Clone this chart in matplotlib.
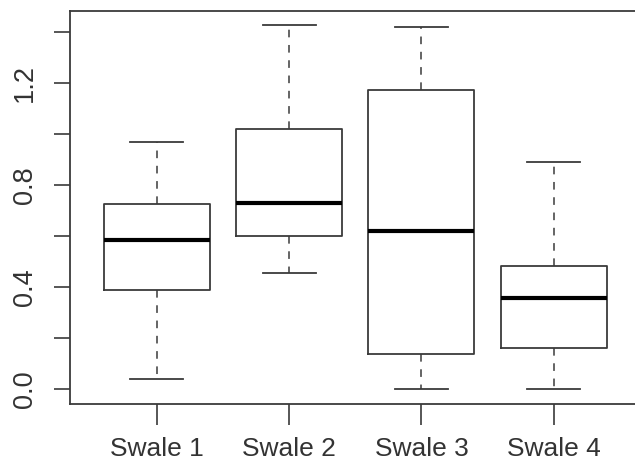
import matplotlib
matplotlib.use("Agg")
import matplotlib.pyplot as plt

categories = ["Swale 1", "Swale 2", "Swale 3", "Swale 4"]
whislo = [0.042, 0.458, 0.0, 0.0]
q1 = [0.388, 0.600, 0.137, 0.163]
med = [0.585, 0.731, 0.620, 0.358]
q3 = [0.727, 1.022, 1.173, 0.482]
whishi = [0.970, 1.427, 1.420, 0.890]
yticks = [0.0, 0.2, 0.4, 0.6, 0.8, 1.0, 1.2, 1.4]
ylabels = ["0.0", "", "0.4", "", "0.8", "", "1.2", ""]

plt.rcParams['font.family'] = ['Liberation Sans', 'DejaVu Sans']

fig = plt.figure(figsize=(6.35, 4.73), dpi=100)
ax = fig.add_axes([69.5 / 635, (473 - 404) / 473, (641 - 69.5) / 635, (404 - 10.6) / 473])

stats = []
for i, c in enumerate(categories):
    stats.append(dict(label=c, whislo=whislo[i], q1=q1[i], med=med[i], q3=q3[i], whishi=whishi[i], fliers=[]))

lc = '#3a3a3a'
ax.bxp(stats, positions=[1, 2, 3, 4], widths=0.8, capwidths=0.4, showfliers=False,
       boxprops=dict(color=lc, linewidth=1.3),
       whiskerprops=dict(color=lc, linewidth=1.1, linestyle=(0, (5, 5))),
       capprops=dict(color=lc, linewidth=1.3),
       medianprops=dict(color='black', linewidth=3, solid_capstyle='butt'))

ax.set_xlim(0.34, 4.66)
ax.set_ylim(-0.0571, 1.484)
ax.set_yticks(yticks)
ax.set_yticklabels(ylabels, rotation=90, va='center')
ax.set_xticks([1, 2, 3, 4])
ax.set_xticklabels(categories)

for s in ax.spines.values():
    s.set_color(lc)
    s.set_linewidth(1.3)

ax.tick_params(axis='y', length=11.5, width=1.2, color=lc, labelsize=19.5, pad=11.5, labelcolor='#333333')
ax.tick_params(axis='x', length=15, width=1.2, color=lc, labelsize=19, pad=9, labelcolor='#333333')

fig.savefig("out.png", dpi=100)
